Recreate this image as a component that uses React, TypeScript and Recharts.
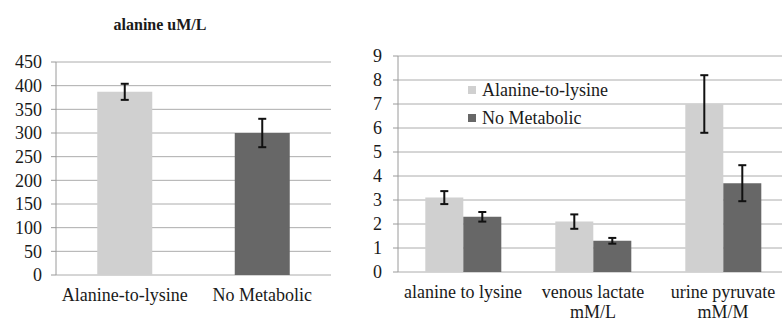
import { Bar, BarChart, CartesianGrid, Cell, ErrorBar, Legend, XAxis, YAxis } from "recharts";

const FONT = '"Liberation Serif", "Times New Roman", serif';
const TEXT = "#1a1a1a";
const GRID = "#acacac";
const AXIS = "#9a9a9a";
const LIGHT = "#d0d0d0";
const DARK = "#676767";

// left panel: alanine uM/L
const leftCategories = ["Alanine-to-lysine", "No Metabolic"];
const leftValues = [387, 300];
const leftErrors = [17, 30];
const leftColors = [LIGHT, DARK];
const leftTicks = [0, 50, 100, 150, 200, 250, 300, 350, 400, 450];

// right panel
const rightCategories = ["alanine to lysine", "venous lactate\nmM/L", "urine pyruvate\nmM/M"];
const alanineValues = [3.1, 2.1, 7.0];
const alanineErrors = [0.27, 0.3, 1.2];
const noMetabolicValues = [2.3, 1.3, 3.7];
const noMetabolicErrors = [0.2, 0.12, 0.75];
const rightTicks = [0, 1, 2, 3, 4, 5, 6, 7, 8, 9];

const leftData = leftCategories.map((name, i) => ({ name, value: leftValues[i], err: leftErrors[i] }));
const rightData = rightCategories.map((name, i) => ({
  name,
  alanine: alanineValues[i],
  alanineErr: alanineErrors[i],
  noMet: noMetabolicValues[i],
  noMetErr: noMetabolicErrors[i],
}));

// tick marks sit between categories, like the original spreadsheet chart
const edges = (n: number) => Array.from({ length: n + 1 }, (_, i) => i);

const tickStyle = { fill: TEXT, fontSize: 18, fontFamily: FONT };

function MultiLineTick({ x, y, payload }: any) {
  const lines = String(payload.value).split("\n");
  return (
    <text x={x} y={y} textAnchor="middle" fill={TEXT} fontSize={18} fontFamily={FONT}>
      {lines.map((line, i) => (
        <tspan key={i} x={x} dy={i === 0 ? "0.71em" : 20}>
          {line}
        </tspan>
      ))}
    </text>
  );
}

function LegendBox({ payload }: any) {
  return (
    <div style={{ fontFamily: FONT, fontSize: 18, color: TEXT }}>
      {(payload || []).map((p: any) => (
        <div key={p.value} style={{ display: "flex", alignItems: "center", height: 28, whiteSpace: "nowrap" }}>
          <span style={{ width: 8, height: 8, background: p.color, marginRight: 6, display: "inline-block" }} />
          {p.value}
        </div>
      ))}
    </div>
  );
}

export default function App() {
  return (
    <div
      style={{
        position: "absolute",
        left: 0,
        top: 0,
        width: 782,
        height: 322,
        overflow: "hidden",
        background: "#fff",
        fontFamily: FONT,
      }}
    >
      <div
        style={{
          position: "absolute",
          left: 60,
          top: 15,
          width: 200,
          textAlign: "center",
          fontSize: 16,
          lineHeight: "20px",
          fontWeight: "bold",
          color: TEXT,
        }}
      >
        alanine uM/L
      </div>

      <div style={{ position: "absolute", left: 0, top: 0 }}>
        <BarChart width={340} height={322} data={leftData} margin={{ top: 62, right: 9, left: 0, bottom: 0 }} barCategoryGap="30%">
          <CartesianGrid vertical={false} stroke={GRID} />
          <XAxis
            xAxisId="edge"
            type="number"
            domain={[0, leftCategories.length]}
            ticks={edges(leftCategories.length)}
            allowDataOverflow
            height={0}
            tickSize={5}
            stroke={AXIS}
            tickFormatter={() => ""}
          />
          <XAxis dataKey="name" height={47} axisLine={false} tickLine={false} tickSize={5} tickMargin={8} tick={tickStyle} interval={0} />
          <YAxis
            domain={[0, 450]}
            ticks={leftTicks}
            width={56}
            tickSize={5}
            tickMargin={9}
            stroke={AXIS}
            tick={tickStyle}
            interval={0}
          />
          <Bar dataKey="value" isAnimationActive={false}>
            {leftData.map((d, i) => (
              <Cell key={d.name} fill={leftColors[i]} />
            ))}
            <ErrorBar dataKey="err" width={4} strokeWidth={2} stroke="#111" />
          </Bar>
        </BarChart>
      </div>

      <div style={{ position: "absolute", left: 330, top: 0 }}>
        <BarChart width={458} height={322} data={rightData} margin={{ top: 56, right: 0, left: 0, bottom: 0 }} barCategoryGap="21%" barGap={0}>
          <CartesianGrid vertical={false} stroke={GRID} />
          <XAxis
            xAxisId="edge"
            type="number"
            domain={[0, rightCategories.length]}
            ticks={edges(rightCategories.length)}
            allowDataOverflow
            height={0}
            tickSize={5}
            stroke={AXIS}
            tickFormatter={() => ""}
          />
          <XAxis dataKey="name" height={50} axisLine={false} tickLine={false} tickSize={5} tickMargin={8} tick={<MultiLineTick />} interval={0} />
          <YAxis
            domain={[0, 9]}
            ticks={rightTicks}
            width={68}
            tickSize={5}
            tickMargin={11}
            stroke={AXIS}
            tick={tickStyle}
            interval={0}
          />
          <Legend
            layout="vertical"
            align="center"
            verticalAlign="middle"
            content={<LegendBox />}
            wrapperStyle={{ position: "absolute", left: 138, top: 76, width: 200 }}
          />
          <Bar dataKey="alanine" name="Alanine-to-lysine" fill={LIGHT} isAnimationActive={false}>
            <ErrorBar dataKey="alanineErr" width={4} strokeWidth={2} stroke="#111" />
          </Bar>
          <Bar dataKey="noMet" name="No Metabolic" fill={DARK} isAnimationActive={false}>
            <ErrorBar dataKey="noMetErr" width={4} strokeWidth={2} stroke="#111" />
          </Bar>
        </BarChart>
      </div>
    </div>
  );
}
